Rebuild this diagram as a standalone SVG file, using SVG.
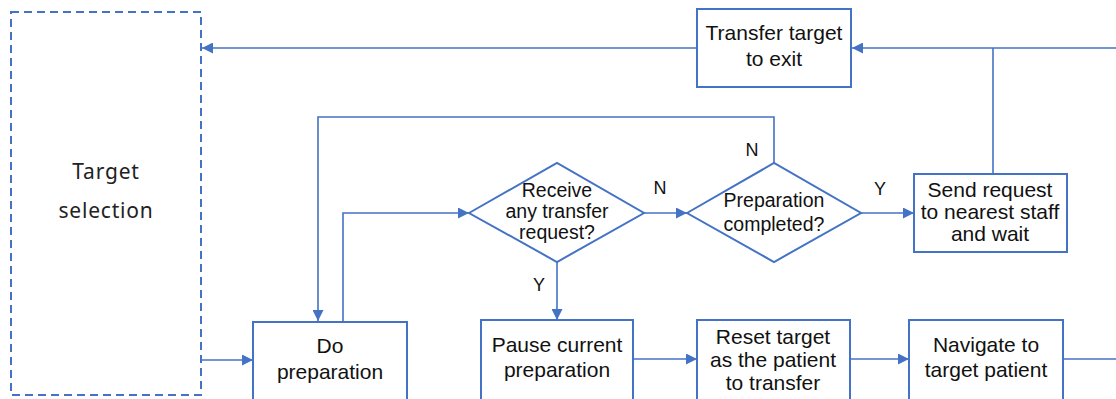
<svg xmlns="http://www.w3.org/2000/svg" width="1116" height="399" viewBox="0 0 1116 399">
<defs>
<marker id="arr" markerUnits="userSpaceOnUse" markerWidth="11" markerHeight="11" refX="11" refY="5.5" orient="auto">
<path d="M0,0 L11,5.5 L0,11 z" fill="#4472C4"/>
</marker>
<style>
.box{fill:#fff;stroke:#4472C4;stroke-width:2}
.con{fill:none;stroke:#4472C4;stroke-width:1.6}
.t{font-family:"Liberation Sans",Arial,sans-serif;font-size:21px;fill:#111;text-anchor:middle}
.d{font-family:"Liberation Sans",Arial,sans-serif;font-size:19.5px;fill:#111;text-anchor:middle}
.lbl{font-family:"Liberation Sans",Arial,sans-serif;font-size:18px;fill:#111;text-anchor:middle}
.ts{font-family:"Noto Sans","Open Sans",sans-serif;font-size:21px;fill:#222;text-anchor:middle;letter-spacing:0.8px}
</style>
</defs>
<rect width="1116" height="399" fill="#fff"/>
<g id="connectors">
<path class="con" d="M697,48 H202" marker-end="url(#arr)"/>
<path class="con" d="M1116,48 H852" marker-end="url(#arr)"/>
<path class="con" d="M993,174 V48"/>
<path class="con" d="M201,360 H253" marker-end="url(#arr)"/>
<path class="con" d="M343,322 V213 H469" marker-end="url(#arr)"/>
<path class="con" d="M644,213 H687" marker-end="url(#arr)"/>
<path class="con" d="M774,163 V117 H318 V321" marker-end="url(#arr)"/>
<path class="con" d="M861,213 H914" marker-end="url(#arr)"/>
<path class="con" d="M557,262 V320" marker-end="url(#arr)"/>
<path class="con" d="M633,359 H697" marker-end="url(#arr)"/>
<path class="con" d="M850,359 H909" marker-end="url(#arr)"/>
<path class="con" d="M1063,359 H1116"/>
</g>
<g id="target-selection">
<rect x="11" y="12" width="190" height="383" fill="none" stroke="#4472C4" stroke-width="2" stroke-dasharray="8,5"/>
<text class="ts" x="106" y="179">Target</text>
<text class="ts" x="106" y="218">selection</text>
</g>
<g id="transfer-exit">
<rect class="box" x="697" y="9" width="154" height="78"/>
<text class="t" x="774" y="40">Transfer target</text>
<text class="t" x="774" y="66">to exit</text>
</g>
<g id="do-preparation">
<rect class="box" x="253" y="322" width="154" height="90"/>
<text class="t" x="330" y="353">Do</text>
<text class="t" x="330" y="379">preparation</text>
</g>
<g id="receive-request">
<polygon class="box" points="469,213 557,163 644,213 557,262"/>
<text class="d" x="557" y="197">Receive</text>
<text class="d" x="557" y="218">any transfer</text>
<text class="d" x="557" y="239">request?</text>
</g>
<g id="preparation-completed">
<polygon class="box" points="687,213 774,163 861,213 774,262"/>
<text class="d" x="774" y="207">Preparation</text>
<text class="d" x="774" y="231">completed?</text>
</g>
<g id="send-request">
<rect class="box" x="914" y="174" width="153" height="78"/>
<text class="t" x="990" y="197">Send request</text>
<text class="t" x="990" y="219">to nearest staff</text>
<text class="t" x="990" y="241">and wait</text>
</g>
<g id="pause">
<rect class="box" x="481" y="320" width="152" height="90"/>
<text class="t" x="557" y="352">Pause current</text>
<text class="t" x="557" y="377">preparation</text>
</g>
<g id="reset-target">
<rect class="box" x="697" y="320" width="153" height="90"/>
<text class="t" x="773" y="344">Reset target</text>
<text class="t" x="773" y="367">as the patient</text>
<text class="t" x="773" y="390">to transfer</text>
</g>
<g id="navigate">
<rect class="box" x="909" y="320" width="154" height="90"/>
<text class="t" x="986" y="352">Navigate to</text>
<text class="t" x="986" y="377">target patient</text>
</g>
<g id="labels">
<text class="lbl" x="660" y="194">N</text>
<text class="lbl" x="752" y="156">N</text>
<text class="lbl" x="880" y="195">Y</text>
<text class="lbl" x="539" y="291">Y</text>
</g>
</svg>
